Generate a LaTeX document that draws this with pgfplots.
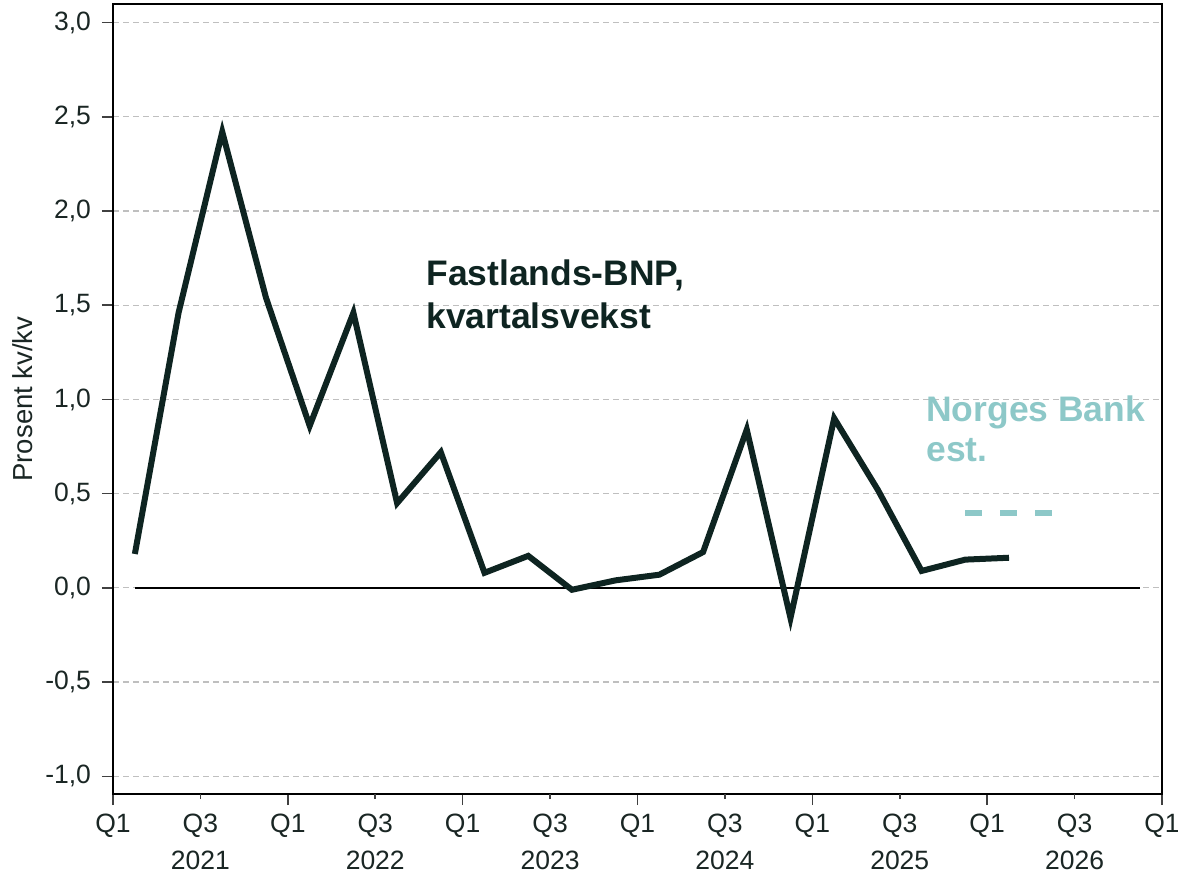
\documentclass[border=0pt]{standalone}
\usepackage{pgfplots}
\pgfplotsset{compat=1.18}
\usepackage{fontspec}
\setmainfont{Liberation Sans}
\definecolor{lineC}{HTML}{0E2421}
\definecolor{nbteal}{HTML}{8DC8C8}
\definecolor{txt}{HTML}{1A2624}
\begin{document}
\begin{tikzpicture}
\useasboundingbox (-56.5bp,-40.4bp) rectangle (532.5bp,397.1bp);
\begin{axis}[
  scale only axis, width=524.5bp, height=395.2bp,
  xmin=0, xmax=24, ymin=-1.095, ymax=3.1,
  axis line style={black, line width=0.8bp},
  tick align=outside,
  xtick pos=bottom, ytick pos=left,
  tick style={color=black!75, line width=0.8bp},
  major tick length=5.5bp,
  xtick={0,4,...,24},
  xticklabels={Q1,Q1,Q1,Q1,Q1,Q1,Q1},
  extra x ticks={2,6,...,22},
  extra x tick labels={{Q3\\2021},{Q3\\2022},{Q3\\2023},{Q3\\2024},{Q3\\2025},{Q3\\2026}},
  extra x tick style={major tick length=2.5bp, xticklabel style={yshift=-3bp}},
  xticklabel style={align=center, anchor=north, yshift=-1bp, font=\fontsize{13.3}{18.5}\selectfont, text=txt},
  ytick={-1,-0.5,...,3},
  yticklabel style={/pgf/number format/fixed, /pgf/number format/fixed zerofill,
    /pgf/number format/precision=1, /pgf/number format/use comma,
    /pgf/number format/assume math mode=true, xshift=-2bp,
    font=\fontsize{13.3}{15}\selectfont, text=txt},
  ymajorgrids,
  major grid style={dash pattern=on 3bp off 2bp, color=black!25, line width=0.6bp},
  ylabel={Prosent kv/kv},
  every axis y label/.style={at={(rel axis cs:0,0.5)}, xshift=-40bp, rotate=90, anchor=base,
    font=\fontsize{13.8}{16}\selectfont, text=txt},
  clip=false,
]
\addplot[black, line width=0.8bp] coordinates {(0.5,0) (23.5,0)};
\addplot[lineC, line width=3bp, line join=miter] coordinates {
(0.5,0.18) (1.5,1.46) (2.5,2.42) (3.5,1.54) (4.5,0.86) (5.5,1.46) (6.5,0.45)
(7.5,0.72) (8.5,0.08) (9.5,0.17) (10.5,-0.01) (11.5,0.04) (12.5,0.07) (13.5,0.19)
(14.5,0.84) (15.5,-0.16) (16.5,0.90) (17.5,0.52) (18.5,0.09) (19.5,0.15) (20.5,0.16)};
\addplot[nbteal, line width=3bp, dash pattern=on 8.5bp off 9bp] coordinates {(19.5,0.40) (21.5,0.40)};
\node[anchor=base west, inner sep=0pt, font=\fontsize{17.8}{20}\selectfont\bfseries, text=lineC] at (axis cs:7.16,1.605) {Fastlands-BNP,};
\node[anchor=base west, inner sep=0pt, font=\fontsize{17.8}{20}\selectfont\bfseries, text=lineC] at (axis cs:7.16,1.378) {kvartalsvekst};
\node[anchor=base west, inner sep=0pt, font=\fontsize{17.8}{20}\selectfont\bfseries, text=nbteal] at (axis cs:18.6,0.885) {Norges Bank};
\node[anchor=base west, inner sep=0pt, font=\fontsize{17.8}{20}\selectfont\bfseries, text=nbteal] at (axis cs:18.6,0.67) {est.};
\end{axis}
\end{tikzpicture}
\end{document}
